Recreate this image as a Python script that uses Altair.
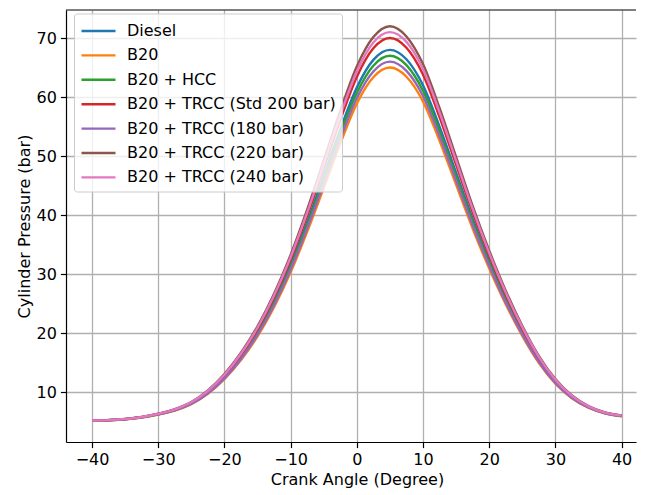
import altair as alt
import pandas as pd

crank_angle = [-40, -37.5, -35, -32.5, -30, -27.5, -25, -22.5, -20, -17.5, -15, -12.5, -10,
               -7.5, -5, -2.5, 0, 2.5, 5, 7.5, 10, 12.5, 15, 17.5, 20, 22.5, 25, 27.5,
               30, 32.5, 35, 37.5, 40]

diesel = [5.2, 5.28, 5.45, 5.78, 6.3, 7.0, 8.15, 10.0, 12.6, 16.0, 20.2, 25.4, 31.6,
          38.8, 46.6, 54.5, 61.6, 66.3, 68.0, 66.4, 62.0, 55.0, 47.2, 39.4, 32.3, 25.9,
          20.3, 15.5, 11.8, 9.2, 7.5, 6.5, 6.0]
b20 = [5.2, 5.27, 5.43, 5.74, 6.24, 6.9, 8.0, 9.76, 12.24, 15.47, 19.47, 24.42, 30.32,
       37.18, 44.6, 52.12, 58.88, 63.36, 65.0, 63.45, 59.26, 52.6, 45.17, 37.75, 30.99,
       24.9, 19.57, 15.0, 11.47, 9.0, 7.38, 6.43, 5.95]
b20_hcc = [5.2, 5.28, 5.44, 5.77, 6.28, 6.97, 8.1, 9.92, 12.48, 15.82, 19.96, 25.07, 31.17,
           38.26, 45.93, 53.71, 60.69, 65.32, 67.0, 65.42, 61.09, 54.2, 46.52, 38.85, 31.86,
           25.57, 20.06, 15.33, 11.69, 9.13, 7.46, 6.48, 5.98]
b20_trcc_200 = [5.21, 5.29, 5.46, 5.8, 6.34, 7.06, 8.25, 10.16, 12.84, 16.35, 20.69, 26.05,
                32.45, 39.88, 47.93, 56.08, 63.41, 68.26, 70.0, 68.36, 63.82, 56.6, 48.55,
                40.5, 33.17, 26.57, 20.79, 15.84, 12.02, 9.33, 7.58, 6.55, 6.03]
b20_trcc_180 = [5.19, 5.27, 5.44, 5.76, 6.26, 6.94, 8.05, 9.84, 12.36, 15.65, 19.71, 24.75,
                30.75, 37.72, 45.27, 52.92, 59.79, 64.34, 66.0, 64.44, 60.18, 53.4, 45.85,
                38.3, 31.43, 25.23, 19.81, 15.16, 11.58, 9.07, 7.42, 6.45, 5.97]
b20_trcc_220 = [5.21, 5.3, 5.48, 5.83, 6.38, 7.13, 8.35, 10.32, 13.08, 16.69, 21.16, 26.69,
                33.28, 40.93, 49.22, 57.62, 65.17, 70.16, 72.0, 70.27, 65.59, 58.15, 49.86,
                41.57, 34.02, 27.22, 21.26, 16.16, 12.23, 9.46, 7.66, 6.59, 6.06]
b20_trcc_240 = [5.21, 5.29, 5.47, 5.82, 6.36, 7.1, 8.3, 10.24, 12.96, 16.53, 20.93, 26.38,
                32.88, 40.42, 48.6, 56.88, 64.32, 69.24, 71.0, 69.35, 64.74, 57.4, 49.23,
                41.05, 33.61, 26.9, 21.03, 16.0, 12.13, 9.4, 7.62, 6.57, 6.05]

series_names = ["Diesel", "B20", "B20 + HCC", "B20 + TRCC (Std 200 bar)",
                "B20 + TRCC (180 bar)", "B20 + TRCC (220 bar)", "B20 + TRCC (240 bar)"]
series_values = [diesel, b20, b20_hcc, b20_trcc_200, b20_trcc_180, b20_trcc_220, b20_trcc_240]
series_colors = ["#1f77b4", "#ff7f0e", "#2ca02c", "#d62728", "#9467bd", "#8c564b", "#e377c2"]

x_ticks = [-40, -30, -20, -10, 0, 10, 20, 30, 40]
y_ticks = [10, 20, 30, 40, 50, 60, 70]

rows = []
for i, (name, vals) in enumerate(zip(series_names, series_values)):
    for a, p in zip(crank_angle, vals):
        rows.append({"angle": a, "pressure": p, "fuel": name, "idx": i})
df = pd.DataFrame(rows)

FONT = "DejaVu Sans"
FS = 16

lines = alt.Chart(df).mark_line(strokeWidth=2.4, interpolate="monotone").encode(
    x=alt.X("angle:Q",
            scale=alt.Scale(domain=[-43.93, 42.18], nice=False, zero=False),
            axis=alt.Axis(values=x_ticks, title="Crank Angle (Degree)", titleX=291)),
    y=alt.Y("pressure:Q",
            scale=alt.Scale(domain=[1.58, 74.75], nice=False, zero=False),
            axis=alt.Axis(values=y_ticks, title="Cylinder Pressure (bar)")),
    color=alt.Color("fuel:N",
                    scale=alt.Scale(domain=series_names, range=series_colors),
                    legend=alt.Legend(orient="none", legendX=8, legendY=3.5, title=None,
                                      symbolType="M-1.7,0H1.7", symbolSize=400,
                                      symbolStrokeWidth=2.4, symbolOffset=7,
                                      labelOffset=17, rowPadding=4.4, padding=6,
                                      labelFont=FONT, labelFontSize=FS, labelColor="#000",
                                      labelLimit=0,
                                      fillColor="rgba(255,255,255,0.8)",
                                      strokeColor="#cccccc", cornerRadius=3)),
    order=alt.Order("idx:Q"),
    detail="idx:Q",
)

top_spine = alt.Chart(alt.Data(values=[{}])).mark_rule(color="#000", strokeWidth=1.2).encode(
    x=alt.value(0), x2=alt.value("width"), y=alt.value(0)
)

chart = alt.layer(lines, top_spine).properties(
    width=570, height=432,
    padding={"left": 58, "top": 2, "right": 2, "bottom": 52},
    autosize=alt.AutoSizeParams(type="none"),
).configure_view(stroke=None).configure_axis(
    labelFont=FONT, labelFontSize=FS, labelColor="#000",
    titleFont=FONT, titleFontSize=FS, titleFontWeight="normal", titleColor="#000",
    domainColor="#000", domainWidth=1.2,
    tickColor="#000", tickWidth=1.2, tickSize=5.6, labelPadding=4,
    gridColor="#b0b0b0", gridWidth=1.3, titlePadding=4,
)

chart.save("out.html", embed_options={"renderer": "svg", "actions": False})
